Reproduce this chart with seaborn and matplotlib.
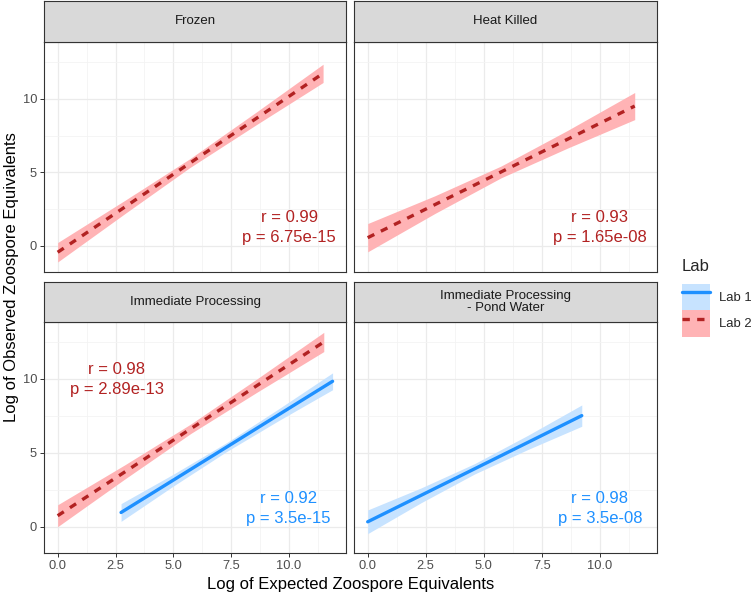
import numpy as np
import pandas as pd
import matplotlib.pyplot as plt
from matplotlib.lines import Line2D
from matplotlib.patches import Patch
import seaborn as sns

sns.set_theme(style = 'white')
plt.rcParams['font.family'] = ['Liberation Sans', 'DejaVu Sans']

facets = ['Frozen', 'Heat Killed', 'Immediate Processing', 'Immediate Processing\n- Pond Water']
labs = ['Lab 1', 'Lab 2']

# fitted line and confidence band
frozen_lab2_x = [0.0, 2.9, 5.7, 8.6, 11.47]
frozen_lab2_fit = [-0.43, 2.64, 5.61, 8.68, 11.72]
frozen_lab2_lo = [-1.09, 2.19, 5.31, 8.25, 11.10]
frozen_lab2_hi = [0.23, 3.09, 5.91, 9.11, 12.34]

heat_lab2_x = [0.0, 2.9, 5.75, 8.6, 11.5]
heat_lab2_fit = [0.56, 2.81, 5.03, 7.24, 9.50]
heat_lab2_lo = [-0.40, 2.21, 4.63, 6.64, 8.58]
heat_lab2_hi = [1.52, 3.41, 5.43, 7.84, 10.42]

imm_lab2_x = [0.0, 2.9, 5.75, 8.6, 11.5]
imm_lab2_fit = [0.75, 3.71, 6.63, 9.54, 12.50]
imm_lab2_lo = [0.01, 3.23, 6.31, 9.09, 11.85]
imm_lab2_hi = [1.49, 4.19, 6.95, 9.99, 13.15]

imm_lab1_x = [2.74, 5.0, 7.3, 9.6, 11.88]
imm_lab1_fit = [0.97, 3.16, 5.39, 7.63, 9.84]
imm_lab1_lo = [0.37, 2.76, 5.09, 7.23, 9.27]
imm_lab1_hi = [1.57, 3.56, 5.69, 8.03, 10.41]

pond_lab1_x = [0.0, 2.3, 4.6, 6.9, 9.22]
pond_lab1_fit = [0.34, 2.13, 3.92, 5.71, 7.52]
pond_lab1_lo = [-0.46, 1.63, 3.57, 5.23, 6.80]
pond_lab1_hi = [1.14, 2.63, 4.27, 6.19, 8.24]

# correlation labels per facet / lab
stat_facet = ['Frozen', 'Heat Killed', 'Immediate Processing', 'Immediate Processing', 'Immediate Processing\n- Pond Water']
stat_lab = ['Lab 2', 'Lab 2', 'Lab 2', 'Lab 1', 'Lab 1']
stat_r = ['0.99', '0.93', '0.98', '0.92', '0.98']
stat_p = ['6.75e-15', '1.65e-08', '2.89e-13', '3.5e-15', '3.5e-08']

x_ticks = [0, 2.5, 5, 7.5, 10]
x_tick_labels = ['0.0', '2.5', '5.0', '7.5', '10.0']
y_ticks = [0, 5, 10]


def series_frame(facet, lab, x, fit, lo, hi):
    return pd.DataFrame({'facet': facet, 'lab': lab, 'x': x, 'fit': fit, 'lo': lo, 'hi': hi})


df = pd.concat([
    series_frame(facets[0], 'Lab 2', frozen_lab2_x, frozen_lab2_fit, frozen_lab2_lo, frozen_lab2_hi),
    series_frame(facets[1], 'Lab 2', heat_lab2_x, heat_lab2_fit, heat_lab2_lo, heat_lab2_hi),
    series_frame(facets[2], 'Lab 2', imm_lab2_x, imm_lab2_fit, imm_lab2_lo, imm_lab2_hi),
    series_frame(facets[2], 'Lab 1', imm_lab1_x, imm_lab1_fit, imm_lab1_lo, imm_lab1_hi),
    series_frame(facets[3], 'Lab 1', pond_lab1_x, pond_lab1_fit, pond_lab1_lo, pond_lab1_hi),
], ignore_index = True)

line_color = {'Lab 1': '#1E90FF', 'Lab 2': '#B22222'}
band_color = {'Lab 1': '#C7E3FF', 'Lab 2': '#FFB3B5'}
text_color = {'Lab 1': '#1E90FF', 'Lab 2': '#B22222'}
line_style = {'Lab 1': '-', 'Lab 2': (0, (2.2, 2.2))}
stat_pos = [(10.0, 1.25), (10.0, 1.25), (2.55, 9.97), (9.97, 1.23), (10.0, 1.23)]

W, H = 751, 595
fig = plt.figure(figsize = (7.51, 5.95), dpi = 100)


def px_box(x0, y0, x1, y1):
    return [x0 / W, 1 - y1 / H, (x1 - x0) / W, (y1 - y0) / H]


panel_boxes = [(44, 42, 346, 272), (354, 42, 657, 272), (44, 322, 346, 553), (354, 322, 657, 553)]
strip_boxes = [(44, 1, 346, 42), (354, 1, 657, 42), (44, 282, 346, 322), (354, 282, 657, 322)]

for i, facet in enumerate(facets):

    ax = fig.add_axes(px_box(*panel_boxes[i]))
    sax = fig.add_axes(px_box(*strip_boxes[i]))

    # strip
    sax.set_facecolor('#D9D9D9')
    sax.set_xticks([])
    sax.set_yticks([])
    for sp in sax.spines.values():
        sp.set_color('#333333')
        sp.set_linewidth(0.8)
    sax.text(0.5, 0.5, facet, ha = 'center', va = 'center', fontsize = 9.5,
             color = '#1A1A1A', transform = sax.transAxes, linespacing = 1.05)

    sub = df[df['facet'] == facet]
    for lab in labs:
        d = sub[sub['lab'] == lab]
        if d.empty:
            continue
        ax.fill_between(d['x'], d['lo'], d['hi'], color = band_color[lab], lw = 0, zorder = 2)
        sns.lineplot(x = d['x'], y = d['fit'], ax = ax, color = line_color[lab], lw = 2.4,
                     linestyle = line_style[lab], errorbar = None, zorder = 3)

    for j in range(len(stat_facet)):
        if stat_facet[j] == facet:
            tx, ty = stat_pos[j]
            ax.text(tx, ty, f'r = {stat_r[j]}\np = {stat_p[j]}', ha = 'center', va = 'center',
                    fontsize = 12, color = text_color[stat_lab[j]], linespacing = 1.4, zorder = 4)

    ax.set_xlim(-0.59, 12.46)
    ax.set_ylim(-1.77, 13.85)
    ax.set_xticks(x_ticks)
    ax.set_xticklabels(x_tick_labels)
    ax.set_yticks(y_ticks)
    ax.set_xticks(np.arange(1.25, 12.0, 2.5), minor = True)
    ax.set_yticks([2.5, 7.5, 12.5], minor = True)
    ax.grid(which = 'major', color = '#EBEBEB', lw = 0.9)
    ax.grid(which = 'minor', color = '#F3F3F3', lw = 0.55)
    ax.set_axisbelow(True)
    ax.set_xlabel('')
    ax.set_ylabel('')
    for sp in ax.spines.values():
        sp.set_color('#333333')
        sp.set_linewidth(0.8)
    ax.tick_params(which = 'major', length = 3, width = 0.7, color = '#333333',
                   labelsize = 9.3, labelcolor = '#4D4D4D', pad = 2)
    ax.tick_params(which = 'minor', length = 0)
    ax.tick_params(axis = 'x', bottom = True, left = False)
    ax.tick_params(axis = 'y', left = True)
    if i < 2:
        ax.tick_params(axis = 'x', bottom = False, labelbottom = False)
    if i % 2 == 1:
        ax.tick_params(axis = 'y', left = False, labelleft = False)

fig.text(12 / W, 1 - 277 / H, 'Log of Observed Zoospore Equivalents', rotation = 90,
         ha = 'center', va = 'center', fontsize = 12, color = 'black')
fig.text(350.5 / W, 1 - 585 / H, 'Log of Expected Zoospore Equivalents',
         ha = 'center', va = 'center', fontsize = 12, color = 'black')

handles = [
    (Patch(fc = band_color['Lab 1'], ec = 'none'), Line2D([], [], color = line_color['Lab 1'], lw = 2.4)),
    (Patch(fc = band_color['Lab 2'], ec = 'none'),
     Line2D([], [], color = line_color['Lab 2'], lw = 2.4, linestyle = line_style['Lab 2'])),
]
leg = fig.legend(handles, labs, title = 'Lab', loc = 'upper left', bbox_to_anchor = (682 / W, 1 - 259 / H),
                 frameon = False, handlelength = 2.15, handleheight = 2.75, fontsize = 9.4, title_fontsize = 12,
                 labelspacing = 0, handletextpad = 0.65, alignment = 'left', borderpad = 0, borderaxespad = 0)
leg._legend_box.sep = 7

plt.savefig('out.png', dpi = 100)
